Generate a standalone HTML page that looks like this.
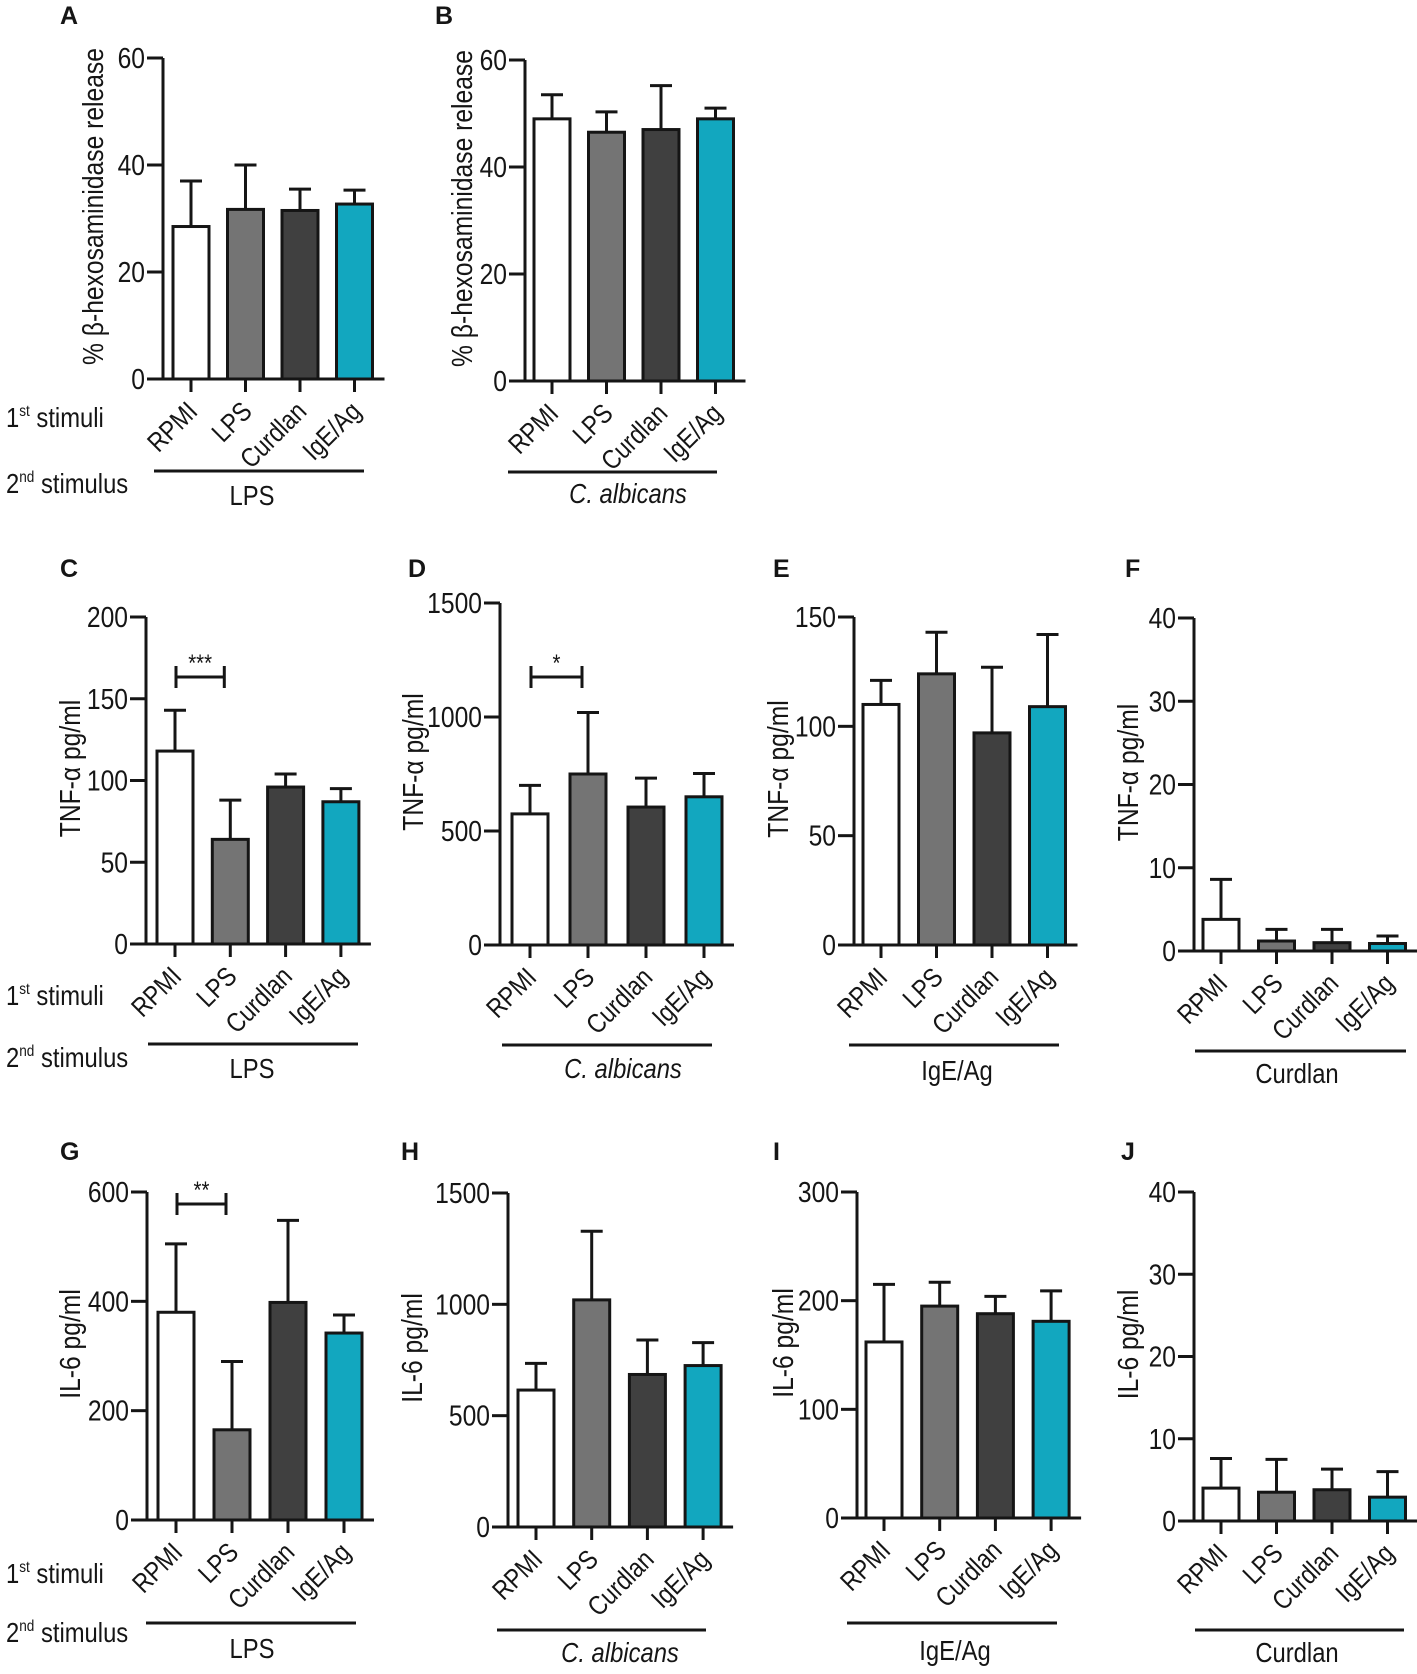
<!DOCTYPE html>
<html><head><meta charset="utf-8"><style>
html,body{margin:0;padding:0;background:#fff}
svg{display:block}
text{font-family:"Liberation Sans",sans-serif;fill:#151515}
</style></head><body>
<svg id="fig" width="1417" height="1674" viewBox="0 0 1417 1674" xmlns="http://www.w3.org/2000/svg"></svg>
<script>
const categories = ["RPMI","LPS","Curdlan","IgE/Ag"];
const colors = ["#ffffff","#747474","#404040","#12a7bf"];
const aMeans=[28.5,31.7,31.5,32.7], aErrs=[37,40,35.5,35.3];
const bMeans=[49,46.5,47,49], bErrs=[53.5,50.3,55.2,51];
const cMeans=[118,64,96,87], cErrs=[143,88,104,95];
const dMeans=[575,750,605,650], dErrs=[700,1020,732,752];
const eMeans=[110,124,97,109], eErrs=[121,143,127,142];
const fMeans=[3.8,1.2,1.0,0.9], fErrs=[8.6,2.6,2.6,1.8];
const gMeans=[380,165,398,342], gErrs=[505,290,548,375];
const hMeans=[615,1020,685,725], hErrs=[735,1328,840,828];
const iMeans=[162,195,188,181], iErrs=[215,217,204,209];
const jMeans=[4,3.5,3.8,2.9], jErrs=[7.6,7.5,6.3,6];
const aTicks=[0,20,40,60], bTicks=[0,20,40,60];
const cTicks=[0,50,100,150,200], dTicks=[0,500,1000,1500];
const eTicks=[0,50,100,150], fTicks=[0,10,20,30,40];
const gTicks=[0,200,400,600], hTicks=[0,500,1000,1500];
const iTicks=[0,100,200,300], jTicks=[0,10,20,30,40];

const panels=[
 {id:"a",L:"A",lx:60,ly:24,ax:163,top:58,bot:379,off:28,sp:54.5,means:aMeans,errs:aErrs,ticks:aTicks,title:"% β-hexosaminidase release",tx:93,stim:"LPS",it:false,u1:154,u2:364,uy:471,sx:252,sy:505,left:[427,493]},
 {id:"b",L:"B",lx:435,ly:24,ax:525,top:60,bot:381,off:27,sp:54.5,means:bMeans,errs:bErrs,ticks:bTicks,title:"% β-hexosaminidase release",tx:462,stim:"C. albicans",it:true,u1:508,u2:717,uy:472,sx:628,sy:503},
 {id:"c",L:"C",lx:60,ly:577,ax:146,top:617,bot:944,off:29,sp:55.3,means:cMeans,errs:cErrs,ticks:cTicks,title:"TNF-α pg/ml",tx:70,stim:"LPS",it:false,u1:148,u2:358,uy:1044,sx:252,sy:1078,sig:[0,1,677,"***"],left:[1005,1067]},
 {id:"d",L:"D",lx:408,ly:577,ax:500,top:603,bot:945,off:30,sp:58,means:dMeans,errs:dErrs,ticks:dTicks,title:"TNF-α pg/ml",tx:413,stim:"C. albicans",it:true,u1:502,u2:712,uy:1045,sx:623,sy:1078,sig:[0,1,677,"*"]},
 {id:"e",L:"E",lx:773,ly:577,ax:854,top:617,bot:945,off:27,sp:55.5,means:eMeans,errs:eErrs,ticks:eTicks,title:"TNF-α pg/ml",tx:778,stim:"IgE/Ag",it:false,u1:849,u2:1059,uy:1045,sx:957,sy:1080},
 {id:"f",L:"F",lx:1125,ly:577,ax:1194,top:618,bot:951,off:27,sp:55.5,means:fMeans,errs:fErrs,ticks:fTicks,title:"TNF-α pg/ml",tx:1128,stim:"Curdlan",it:false,u1:1195,u2:1406,uy:1051,sx:1297,sy:1083},
 {id:"g",L:"G",lx:60,ly:1160,ax:147,top:1192,bot:1520,off:29,sp:56,means:gMeans,errs:gErrs,ticks:gTicks,title:"IL-6 pg/ml",tx:70,stim:"LPS",it:false,u1:146,u2:356,uy:1623,sx:252,sy:1658,sig:[0,1,1204,"**"],left:[1583,1642]},
 {id:"h",L:"H",lx:401,ly:1160,ax:508,top:1193,bot:1527,off:28,sp:55.7,means:hMeans,errs:hErrs,ticks:hTicks,title:"IL-6 pg/ml",tx:412,stim:"C. albicans",it:true,u1:497,u2:706,uy:1630,sx:620,sy:1662},
 {id:"i",L:"I",lx:773,ly:1160,ax:857,top:1192,bot:1518,off:27,sp:55.7,means:iMeans,errs:iErrs,ticks:iTicks,title:"IL-6 pg/ml",tx:783,stim:"IgE/Ag",it:false,u1:847,u2:1057,uy:1623,sx:955,sy:1660},
 {id:"j",L:"J",lx:1121,ly:1160,ax:1194,top:1192,bot:1521,off:27,sp:55.5,means:jMeans,errs:jErrs,ticks:jTicks,title:"IL-6 pg/ml",tx:1128,stim:"Curdlan",it:false,u1:1195,u2:1404,uy:1630,sx:1297,sy:1662}
];
const svg=document.getElementById('fig');
const NS="http://www.w3.org/2000/svg";
const SQ=0.85;
function mk(tag,attrs,parent,txt){const e=document.createElementNS(NS,tag);for(const k in attrs)e.setAttribute(k,attrs[k]);if(txt!==undefined)e.textContent=txt;parent.appendChild(e);return e;}
panels.forEach(p=>{
 const g=mk('g',{},svg);
 
 
 const maxV=p.ticks[p.ticks.length-1];
 const y=v=>p.bot-(v/maxV)*(p.bot-p.top);
 const x=i=>p.ax+p.off+i*p.sp;
 const lab=mk('text',{x:p.lx,y:p.ly,'font-size':25,'font-weight':'bold'},g,p.L);
 
 
 p.means.forEach((m,i)=>{
  const eb=mk('path',{d:`M${x(i)} ${y(m)}V${y(p.errs[i])}M${x(i)-11} ${y(p.errs[i])}H${x(i)+11}`,stroke:'#151515','stroke-width':3,fill:'none'},g);
  
  
  const r=mk('rect',{x:x(i)-18,y:y(m),width:36,height:p.bot-y(m),fill:colors[i],stroke:'#151515','stroke-width':3},g);
  
  
  mk('line',{x1:x(i),x2:x(i),y1:p.bot,y2:p.bot+13,stroke:'#151515','stroke-width':3},g);
  const t=mk('text',{x:0,y:0,'font-size':27,'text-anchor':'end',transform:`translate(${x(i)+8},${p.bot+34}) rotate(-45) scale(${SQ},1)`},g,categories[i]);
  
  
 });
 const ax=mk('path',{d:`M${p.ax} ${p.top}V${p.bot}M${p.ax-16} ${p.bot}H${x(3)+30}`,stroke:'#151515','stroke-width':3,fill:'none'},g);
 
 
 p.ticks.forEach(v=>{
  mk('line',{x1:p.ax-16,x2:p.ax,y1:y(v),y2:y(v),stroke:'#151515','stroke-width':3},g);
  const t=mk('text',{x:0,y:0,'font-size':29,'text-anchor':'end',transform:`translate(${p.ax-18},${y(v)+10}) scale(${SQ},1)`},g,v);
  
  
 });
 const yt=mk('text',{x:0,y:0,'font-size':29,'text-anchor':'middle',transform:`translate(${p.tx+10},${(p.top+p.bot)/2-12}) rotate(-90) scale(${SQ},1)`},g,p.title);
 
 
 if(p.sig){
  const [i1,i2,sy,s]=p.sig;
  const x1=x(i1)+1, x2=x(i2)-6;
  const b=mk('path',{d:`M${x1} ${sy-11}V${sy+11}M${x1} ${sy}H${x2}M${x2} ${sy-11}V${sy+11}`,stroke:'#151515','stroke-width':3,fill:'none'},g);
  
  
  const st=mk('text',{x:0,y:0,'font-size':24,'text-anchor':'middle',transform:`translate(${(x1+x2)/2},${sy-6}) scale(${SQ},1)`},g,s);
  
  
 }
 mk('line',{x1:p.u1,x2:p.u2,y1:p.uy,y2:p.uy,stroke:'#151515','stroke-width':3},g);
 const sl=mk('text',{x:0,y:0,'font-size':28,'text-anchor':'middle','font-style':p.it?'italic':'normal',transform:`translate(${p.sx},${p.sy}) scale(${SQ},1)`},g,p.stim);
 
 
 if(p.left){
  const t1=mk('text',{x:0,y:0,'font-size':28,transform:`translate(6,${p.left[0]}) scale(${SQ},1)`},g);
  
  
  mk('tspan',{},t1,'1');mk('tspan',{'font-size':16,dy:-11},t1,'st');mk('tspan',{dy:11},t1,' stimuli');
  const t2=mk('text',{x:0,y:0,'font-size':28,transform:`translate(6,${p.left[1]}) scale(${SQ},1)`},g);
  
  
  mk('tspan',{},t2,'2');mk('tspan',{'font-size':16,dy:-11},t2,'nd');mk('tspan',{dy:11},t2,' stimulus');
 }
});
</script>
</body></html>
